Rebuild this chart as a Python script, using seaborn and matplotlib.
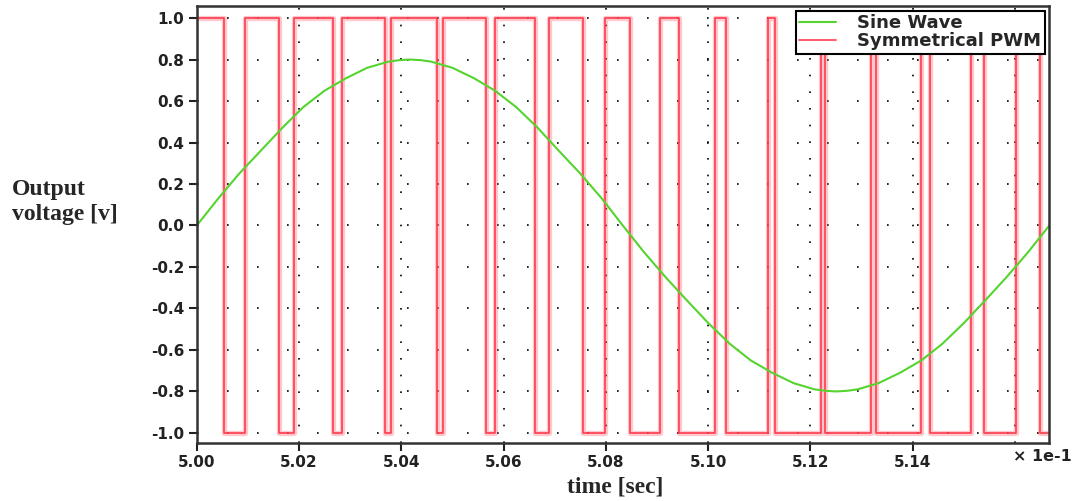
import matplotlib
matplotlib.use("Agg")
import matplotlib.pyplot as plt
import seaborn as sns

# Data (time axis in units of 1e-1 s) -----------------------------------------

sine_t = [5.0000, 5.0042, 5.0083, 5.0125, 5.0167, 5.0208, 5.0250, 5.0292, 5.0333, 5.0375,
          5.0396, 5.0417, 5.0438, 5.0458, 5.0500, 5.0542, 5.0583, 5.0625, 5.0667, 5.0708,
          5.0750, 5.0792, 5.0833, 5.0875, 5.0917, 5.0958, 5.1000, 5.1042, 5.1083, 5.1125,
          5.1167, 5.1208, 5.1229, 5.1250, 5.1271, 5.1292, 5.1333, 5.1375, 5.1417, 5.1458,
          5.1500, 5.1542, 5.1583, 5.1625, 5.1667]
sine_v = [0.00, 0.13, 0.25, 0.36, 0.47, 0.57, 0.65, 0.71, 0.76, 0.79,
          0.797, 0.80, 0.797, 0.79, 0.76, 0.71, 0.65, 0.57, 0.47, 0.36,
          0.25, 0.13, 0.00, -0.13, -0.25, -0.36, -0.47, -0.57, -0.65, -0.71,
          -0.76, -0.79, -0.797, -0.80, -0.797, -0.79, -0.76, -0.71, -0.65, -0.57,
          -0.47, -0.36, -0.25, -0.13, 0.00]

# switching instants of the PWM output and the level held after each one
pwm_t = [5.0000, 5.0053, 5.0094, 5.0161, 5.0190, 5.0266, 5.0284, 5.0368, 5.0379, 5.0469,
         5.0482, 5.0566, 5.0583, 5.0662, 5.0688, 5.0755, 5.0798, 5.0848, 5.0906, 5.0942,
         5.1013, 5.1035, 5.1117, 5.1130, 5.1220, 5.1228, 5.1319, 5.1329, 5.1417, 5.1433,
         5.1514, 5.1539, 5.1602, 5.1648, 5.1667]
pwm_v = [1, -1, 1, -1, 1, -1, 1, -1, 1, -1,
         1, -1, 1, -1, 1, -1, 1, -1, 1, -1,
         1, -1, 1, -1, 1, -1, 1, -1, 1, -1,
         1, -1, 1, -1, -1]

x_ticks = [5.00, 5.02, 5.04, 5.06, 5.08, 5.10, 5.12, 5.14, 5.16]
x_tick_labels = ["5.00", "5.02", "5.04", "5.06", "5.08", "5.10", "5.12", "5.14", ""]
y_ticks = [-1.0, -0.8, -0.6, -0.4, -0.2, 0.0, 0.2, 0.4, 0.6, 0.8, 1.0]

# Plot ------------------------------------------------------------------------

sns.set_style("white")
plt.rcParams["font.family"] = ["DejaVu Sans"]

fig = plt.figure(figsize = (10.9, 5.01), dpi = 100)
ax = fig.add_axes([0.1805, 0.1164, 0.7822, 0.8716])

# soft halo around the red trace, then the trace itself
sns.lineplot(x = pwm_t, y = pwm_v, ax = ax, estimator = None, drawstyle = "steps-post",
             color = "#ff4a5c", linewidth = 3.8, alpha = 0.3, legend = False)
sns.lineplot(x = pwm_t, y = pwm_v, ax = ax, estimator = None, drawstyle = "steps-post",
             color = "#ff3b4e", linewidth = 1.2, label = "Symmetrical PWM")
sns.lineplot(x = sine_t, y = sine_v, ax = ax, estimator = None,
             color = "#55d42f", linewidth = 1.5, label = "Sine Wave")

ax.set_xlim(5.0, 5.1667)
ax.set_ylim(-1.047, 1.058)

ax.set_xticks(x_ticks)
ax.set_xticklabels(x_tick_labels)
ax.set_yticks(y_ticks)
ax.set_yticklabels([f"{v:.1f}" for v in y_ticks])
ax.tick_params(axis = "both", direction = "out", length = 6, width = 1.5, color = "#222222",
               labelsize = 11, labelcolor = "#222222", pad = 3, left = True, bottom = True)
for lab in ax.get_xticklabels() + ax.get_yticklabels():
    lab.set_fontweight("bold")
# no tick mark under the unlabelled 5.16 grid line
ax.xaxis.get_major_ticks()[-1].tick1line.set_visible(False)

# dotted grid
ax.xaxis.grid(True, color = "black", linestyle = (0, (1, 9)), linewidth = 1.2)
ax.yaxis.grid(True, color = "black", linestyle = (0, (1, 17)), linewidth = 1.2)

for s in ax.spines.values():
    s.set_color("#333333")
    s.set_linewidth(1.8)

handles, labels = ax.get_legend_handles_labels()
order = [labels.index("Sine Wave"), labels.index("Symmetrical PWM")]
leg = ax.legend([handles[i] for i in order], [labels[i] for i in order],
                loc = "upper right", borderaxespad = 0.25, fancybox = False, framealpha = 1,
                edgecolor = "black", handlelength = 2.0, handletextpad = 1.2,
                borderpad = 0.2, labelspacing = 0.0,
                prop = {"family": "DejaVu Sans", "weight": "bold", "size": 13})
leg.get_frame().set_linewidth(1.5)

ax.set_ylabel("Output\nvoltage [v]", rotation = 0, ha = "left", va = "center",
              multialignment = "left", fontsize = 17, fontweight = "bold",
              fontfamily = "Liberation Serif")
ax.yaxis.set_label_coords(-0.2165, 0.551)
ax.set_xlabel("time [sec]", fontsize = 17, fontweight = "bold", fontfamily = "Liberation Serif",
              va = "center")
ax.xaxis.set_label_coords(0.491, -0.101)

ax.text(0.957, -0.0305, "× 1e-1", transform = ax.transAxes, ha = "left", va = "center",
        fontsize = 11.5, fontweight = "bold", color = "#222222")

fig.savefig("out.png", dpi = 100)
